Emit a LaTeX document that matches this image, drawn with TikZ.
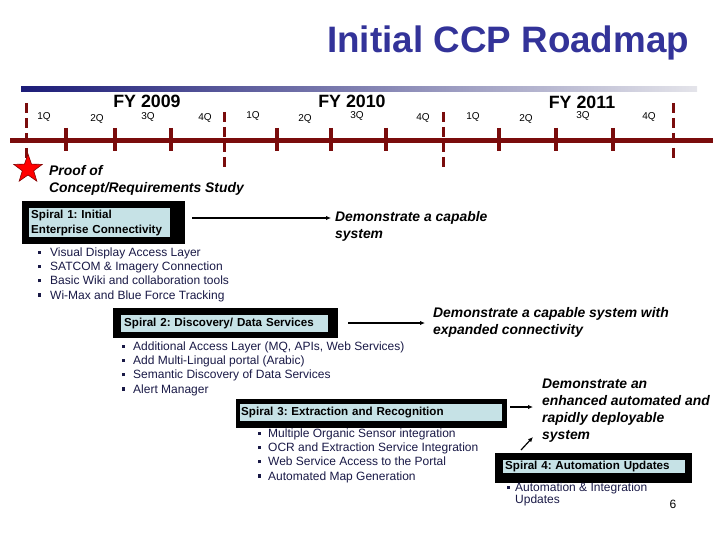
\documentclass[tikz,border=0pt]{standalone}
\usepackage{fontspec}
\setmainfont{Liberation Sans}
\usetikzlibrary{shapes.geometric,backgrounds,arrows.meta,calc}
\definecolor{titleblue}{RGB}{51,51,153}
\definecolor{tlred}{RGB}{122,12,12}
\definecolor{boxblue}{RGB}{198,226,230}
\definecolor{barnavy}{RGB}{28,28,120}
\definecolor{barlight}{RGB}{228,228,234}
\definecolor{bultext}{RGB}{25,25,70}
\newcommand\bsq[1][11pt]{\makebox[#1][l]{\rule[0.2em]{0.27em}{0.27em}}}
\frenchspacing
\begin{document}
\begin{tikzpicture}[x=1pt,y=-1pt,
  txt/.style={inner sep=0pt, anchor=west, align=left},
  qlab/.style={inner sep=0pt, font=\fontsize{10}{12}\selectfont},
  fylab/.style={inner sep=0pt, font=\fontsize{17.8}{20}\selectfont\bfseries},
  demo/.style={txt, font=\fontsize{13.9}{17}\selectfont\bfseries\itshape},
  spiral/.style={fill=boxblue, inner ysep=0pt, anchor=north west, align=left,
    font=\fontsize{11.6}{15}\selectfont\bfseries},
  bullets/.style={txt, text=bultext, font=\fontsize{12}{14.3}\selectfont},
  arr/.style={-{Latex[length=5pt,width=4.5pt]}, line width=1.2pt},
  tickline/.style={tlred, line width=3.5pt},
  yearline/.style={tlred, line width=3pt, dash pattern=on 10pt off 5pt}]
\useasboundingbox (0,0) rectangle (720,540);

% title
\node[inner sep=0pt, anchor=base west, text=titleblue,
  font=\fontsize{36.8}{40}\selectfont\bfseries] (title) at (327,53) {Initial CCP Roadmap};

% gradient bar
\shade[left color=barnavy, right color=barlight] (21,87) rectangle (697,92);

% timeline
\draw[tlred, line width=5.5pt] (10,140.5) -- (713,140.5);
\foreach \x in {66,115,171,277,331,386,499,556,613}
  \draw[tickline] (\x,128) -- (\x,151);
\draw[yearline] (26,103) -- (26,158);
\draw[yearline] (224,112) -- (224,168);
\draw[yearline] (443,112) -- (443,168);
\draw[yearline] (673,103) -- (673,161);

% FY labels
\node[fylab] (fy9) at (147,101) {FY 2009};
\node[fylab] (fy10) at (352,101) {FY 2010};
\node[fylab] (fy11) at (582,102) {FY 2011};

% quarter labels
\node[qlab] (q1) at (44,117) {1Q};
\node[qlab] (q2) at (97,119) {2Q};
\node[qlab] (q3) at (148,117) {3Q};
\node[qlab] (q4) at (205,118) {4Q};
\node[qlab] (q5) at (253,116) {1Q};
\node[qlab] (q6) at (305,119) {2Q};
\node[qlab] (q7) at (357,116) {3Q};
\node[qlab] (q8) at (423,118) {4Q};
\node[qlab] (q9) at (473,117) {1Q};
\node[qlab] (q10) at (526,119) {2Q};
\node[qlab] (q11) at (583,116) {3Q};
\node[qlab] (q12) at (649,117) {4Q};

% star and proof of concept
\node[star, star points=5, star point ratio=2.5, fill=red, draw=red!50!black,
  line width=0.6pt, minimum size=30pt, inner sep=0pt] (star) at (28,169) {};
\node[demo] (proof) at (49,180.5) {Proof of\\Concept/Requirements Study};

% spiral boxes
\node[spiral, inner xsep=2pt, text width=137pt, minimum height=29pt] (s1) at (29,208)
  {Spiral 1: Initial\\Enterprise Connectivity};
\node[spiral, inner xsep=3pt, text width=201pt, minimum height=17pt] (s2) at (121,315)
  {Spiral 2: Discovery/ Data Services};
\node[spiral, inner xsep=1pt, text width=260pt, minimum height=17pt] (s3) at (240,404)
  {Spiral 3: Extraction and Recognition};
\node[spiral, inner xsep=2pt, text width=178pt, minimum height=13pt] (s4) at (503,460)
  {Spiral 4: Automation Updates};

\begin{scope}[on background layer]
  \fill[black] ($(s1.north west)+(-7,-7)$) rectangle ($(s1.south east)+(15,7)$);
  \fill[black] ($(s2.north west)+(-8,-7)$) rectangle ($(s2.south east)+(10,6)$);
  \fill[black] ($(s3.north west)+(-4,-5)$) rectangle ($(s3.south east)+(5,7)$);
  \fill[black] ($(s4.north west)+(-8,-7)$) rectangle ($(s4.south east)+(7,10)$);
\end{scope}

% bullet lists
\node[bullets] (b1) at (38,274.5) {\bsq[12pt]Visual Display Access Layer\\
  \bsq[12pt]SATCOM \& Imagery Connection\\
  \bsq[12pt]Basic Wiki and collaboration tools\\
  \bsq[12pt]Wi-Max and Blue Force Tracking};
\node[bullets] (b2) at (122,368.5) {\bsq[11pt]Additional Access Layer (MQ, APIs, Web Services)\\
  \bsq[11pt]Add Multi-Lingual portal (Arabic)\\
  \bsq[11pt]Semantic Discovery of Data Services\\
  \bsq[11pt]Alert Manager};
\node[bullets] (b3) at (258,455.5) {\bsq[10pt]Multiple Organic Sensor integration\\
  \bsq[10pt]OCR and Extraction Service Integration\\
  \bsq[10pt]Web Service Access to the Portal\\
  \bsq[10pt]Automated Map Generation};
\node[txt, text=bultext, font=\fontsize{12}{11}\selectfont] (b4) at (507,494.5)
  {\bsq[8pt]Automation \& Integration\\\hspace*{8pt}Updates};

% outcomes
\node[demo] (d1) at (335,226.5) {Demonstrate a capable\\system};
\node[demo] (d2) at (433,322.5) {Demonstrate a capable system with\\expanded connectivity};
\node[demo] (d3) at (542,410.5) {Demonstrate an\\enhanced automated and\\rapidly deployable\\system};

% arrows
\coordinate (a1) at (192,218);
\draw[arr] (a1) -- ([xshift=-4pt]a1 -| d1.west);
\coordinate (a2) at (348,323);
\draw[arr] (a2) -- ([xshift=-8pt]a2 -| d2.west);
\coordinate (a3) at (510,407);
\draw[arr] (a3) -- ([xshift=-9pt]a3 -| d3.west);
\draw[arr] ([shift={(18,-10)}]s4.north west) -- ++(12,-13);

% page number
\node[inner sep=0pt, font=\fontsize{12}{14}\selectfont] (pg) at (673,504) {6};
\end{tikzpicture}
\end{document}
